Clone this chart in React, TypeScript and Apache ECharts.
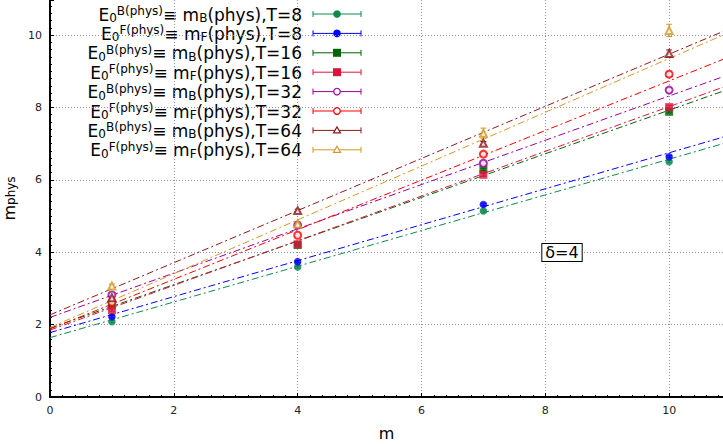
import React, { useEffect, useRef } from "react";
import * as echarts from "echarts";

const XMAX = 10.87;
const YMAX = 10.97;
const mValues = [1, 4, 7, 10];

const seriesNames = [
  "E{s|0}{p|B(phys)}≡ m{s|B}(phys),T=8",
  "E{s|0}{p|F(phys)}≡ m{s|F}(phys),T=8",
  "E{s|0}{p|B(phys)}≡ m{s|B}(phys),T=16",
  "E{s|0}{p|F(phys)}≡ m{s|F}(phys),T=16",
  "E{s|0}{p|B(phys)}≡ m{s|B}(phys),T=32",
  "E{s|0}{p|F(phys)}≡ m{s|F}(phys),T=32",
  "E{s|0}{p|B(phys)}≡ m{s|B}(phys),T=64",
  "E{s|0}{p|F(phys)}≡ m{s|F}(phys),T=64",
];
const colors = ["#0c8a4c", "#0000ff", "#006400", "#dc143c", "#990099", "#ff0000", "#8b1a1a", "#d09a26"];
const markers = ["circle", "circle", "rect", "rect", "open", "open", "tri", "tri"];

const valB8 = [2.08, 3.59, 5.14, 6.5];
const valF8 = [2.22, 3.74, 5.32, 6.64];
const valB16 = [2.55, 4.2, 6.29, 7.88];
const valF16 = [2.4, 4.22, 6.14, 8.01];
const valB32 = [2.82, 4.75, 6.46, 8.48];
const valF32 = [2.62, 4.47, 6.71, 8.92];
const valB64 = [2.74, 5.15, 7.01, 9.49];
const valF64 = [3.07, 4.78, 7.29, 10.13];

const errB8 = [0.03, 0.03, 0.03, 0.03];
const errF8 = [0.03, 0.03, 0.03, 0.03];
const errB16 = [0.03, 0.03, 0.03, 0.03];
const errF16 = [0.03, 0.03, 0.04, 0.05];
const errB32 = [0.03, 0.03, 0.04, 0.06];
const errF32 = [0.03, 0.03, 0.04, 0.06];
const errB64 = [0.04, 0.04, 0.05, 0.1];
const errF64 = [0.05, 0.06, 0.14, 0.17];

// fit line values read at m = 0 and at the right edge (m = XMAX)
const fitAtZero = [1.64, 1.78, 1.9, 1.85, 2.2, 1.88, 2.27, 1.92];
const fitAtEdge = [7.0, 7.18, 8.45, 8.56, 8.85, 9.33, 10.1, 10.0];

const values = [valB8, valF8, valB16, valF16, valB32, valF32, valB64, valF64];
const errors = [errB8, errF8, errB16, errF16, errB32, errF32, errB64, errF64];

const xTicks = [0, 2, 4, 6, 8, 10];
const yTicks = [0, 2, 4, 6, 8, 10];

const FONT = "DejaVu Sans";
const DASH = [7, 3, 2, 3];

function symbolFor(k: string) {
  if (k === "circle") return "circle";
  if (k === "rect") return "rect";
  if (k === "open") return "emptyCircle";
  return "emptyTriangle";
}

export default function App() {
  const ref = useRef<HTMLDivElement>(null);
  useEffect(() => {
    if (!ref.current) return;
    const chart = echarts.init(ref.current, null, { renderer: "svg" });
    const series: any[] = [];
    values.forEach((vals, i) => {
      const c = colors[i];
      series.push({
        type: "line",
        data: [
          [0, fitAtZero[i]],
          [XMAX, fitAtEdge[i]],
        ],
        symbol: "none",
        lineStyle: { color: c, width: 1, type: DASH },
        silent: true,
        z: 2,
      });
    });
    values.forEach((vals, i) => {
      const c = colors[i];
      series.push({
        type: "custom",
        data: vals.map((v, j) => [mValues[j], v, errors[i][j]]),
        encode: { x: 0, y: 1 },
        z: 3,
        renderItem: (params: any, api: any) => {
          const x = api.value(0);
          const y = api.value(1);
          const e = api.value(2);
          const hi = api.coord([x, y + e]);
          const lo = api.coord([x, y - e]);
          const w = 3;
          const st = { stroke: c, lineWidth: 1 };
          return {
            type: "group",
            children: [
              { type: "line", shape: { x1: hi[0], y1: hi[1], x2: lo[0], y2: lo[1] }, style: st },
              { type: "line", shape: { x1: hi[0] - w, y1: hi[1], x2: hi[0] + w, y2: hi[1] }, style: st },
              { type: "line", shape: { x1: lo[0] - w, y1: lo[1], x2: lo[0] + w, y2: lo[1] }, style: st },
            ],
          };
        },
      });
      const mk = markers[i];
      series.push({
        type: "scatter",
        data: vals.map((v, j) => [mValues[j], v]),
        symbol: symbolFor(mk),
        symbolSize: mk === "rect" ? 8 : mk === "circle" ? 7.5 : 7,
        itemStyle: { color: c, borderColor: c, borderWidth: mk === "open" || mk === "tri" ? 1.2 : 0 },
        z: 4,
      });
    });

    const graphics: any[] = [];
    const rich = {
      s: { fontSize: 12, fontFamily: FONT, lineHeight: 7, verticalAlign: "bottom", fill: "#000" },
      p: { fontSize: 12, fontFamily: FONT, lineHeight: 9, verticalAlign: "top", fill: "#000" },
    };
    seriesNames.forEach((name, i) => {
      const y = 14.5 + 19.4 * i;
      const c = colors[i];
      graphics.push({
        type: "text",
        x: 302,
        y,
        style: {
          text: name,
          rich,
          fontSize: 17,
          fontFamily: FONT,
          lineHeight: 19,
          fill: "#000",
          align: "right",
          verticalAlign: "middle",
        },
      });
      const ly = y - 0.5;
      const st = { stroke: c, lineWidth: 1 };
      graphics.push({ type: "line", shape: { x1: 313, y1: ly, x2: 361, y2: ly }, style: st });
      graphics.push({ type: "line", shape: { x1: 313, y1: ly - 3, x2: 313, y2: ly + 3 }, style: st });
      graphics.push({ type: "line", shape: { x1: 361, y1: ly - 3, x2: 361, y2: ly + 3 }, style: st });
      const mk = markers[i];
      if (mk === "circle") {
        graphics.push({ type: "circle", shape: { cx: 337, cy: ly, r: 3.8 }, style: { fill: c } });
      } else if (mk === "rect") {
        graphics.push({ type: "rect", shape: { x: 333, y: ly - 4, width: 8, height: 8 }, style: { fill: c } });
      } else if (mk === "open") {
        graphics.push({ type: "circle", shape: { cx: 337, cy: ly, r: 3.3 }, style: { fill: "#fff", stroke: c, lineWidth: 1.2 } });
      } else {
        graphics.push({
          type: "polygon",
          shape: { points: [[337, ly - 3.5], [333.5, ly + 2.5], [340.5, ly + 2.5]] },
          style: { fill: "#fff", stroke: c, lineWidth: 1.2 },
        });
      }
    });
    graphics.push({
      type: "text",
      x: 562,
      y: 252.5,
      style: {
        text: "δ=4",
        fontSize: 16,
        fontFamily: FONT,
        fill: "#000",
        align: "center",
        verticalAlign: "middle",
        backgroundColor: "#fff",
        borderColor: "#000",
        borderWidth: 1,
        padding: [1, 3, 0, 3],
      },
      z: 100,
    });

    const gridLine = { show: true, showMaxLine: false, showMinLine: false, lineStyle: { color: "#8c8cd0", type: [1, 2], width: 1 } };
    chart.setOption({
      animation: false,
      grid: { left: 50, right: 0, top: 0, bottom: 47, containLabel: false, outerBoundsMode: "none" },
      xAxis: {
        type: "value",
        min: 0,
        max: XMAX,
        interval: 2,
        name: "m",
        nameLocation: "middle",
        nameGap: 28,
        nameTextStyle: { fontSize: 16, fontFamily: FONT, color: "#000" },
        axisLine: { lineStyle: { color: "#000", width: 2 } },
        axisTick: { inside: true, length: 4, lineStyle: { color: "#000" } },
        minorTick: { show: true, splitNumber: 10, length: 2, lineStyle: { color: "#000" } },
        axisLabel: {
          fontSize: 11,
          fontFamily: FONT,
          color: "#222",
          margin: 8,
          showMaxLabel: false,
          formatter: (v: number) => (xTicks.includes(v) ? String(v) : ""),
        },
        splitLine: gridLine,
      },
      yAxis: {
        type: "value",
        min: 0,
        max: YMAX,
        interval: 2,
        name: "m{s|phys}",
        nameLocation: "middle",
        nameRotate: 90,
        nameGap: 25,
        nameTextStyle: {
          fontSize: 16,
          fontFamily: FONT,
          color: "#000",
          rich: { s: { fontSize: 12, fontFamily: FONT, verticalAlign: "bottom", lineHeight: 10, color: "#000" } },
        },
        axisLine: { show: true, lineStyle: { color: "#000", width: 2 } },
        axisTick: { show: true, inside: true, length: 4, lineStyle: { color: "#000" } },
        minorTick: { show: true, splitNumber: 10, length: 2, lineStyle: { color: "#000" } },
        axisLabel: {
          fontSize: 11,
          fontFamily: FONT,
          color: "#222",
          margin: 8,
          showMaxLabel: false,
          formatter: (v: number) => (yTicks.includes(v) ? String(v) : ""),
        },
        splitLine: gridLine,
      },
      series,
      graphic: graphics,
    });
    return () => chart.dispose();
  }, []);
  return <div ref={ref} style={{ width: 723, height: 444, position: "absolute", left: 0, top: 0, background: "#fff" }} />;
}
